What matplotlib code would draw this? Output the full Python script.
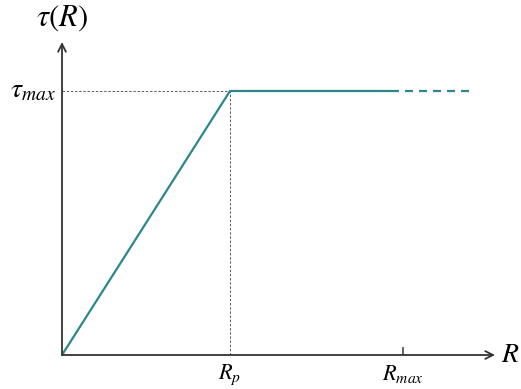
import numpy as np
import matplotlib.pyplot as plt

plt.rcParams['mathtext.fontset'] = 'stix'
plt.rcParams['font.family'] = ['Liberation Serif', 'DejaVu Serif']

# curve (in units of R_p and tau_max)
r_solid = [0.0, 1.0, 1.96]
tau_solid = [0.0, 1.0, 1.0]
r_dash = [1.96, 2.46]
tau_dash = [1.0, 1.0]
r_p = 1.0
r_max = 2.03
tau_max = 1.0

teal = '#2b878c'

fig = plt.figure(figsize=(5.21, 3.89), dpi=100)
ax = fig.add_axes([62 / 521, 34 / 389, 440 / 521, 321 / 389])
ax.set_xlim(0, 440 / 168)
ax.set_ylim(0, 321 / 264)
ax.axis('off')

# axes with arrows
ax.annotate('', xy=(433 / 168, 0), xytext=(0, 0),
            arrowprops=dict(arrowstyle='->', color='#333333', lw=1.3,
                            mutation_scale=14, shrinkA=0, shrinkB=0))
ax.annotate('', xy=(0, 313 / 264), xytext=(0, 0),
            arrowprops=dict(arrowstyle='->', color='#333333', lw=1.3,
                            mutation_scale=14, shrinkA=0, shrinkB=0))

# guide lines
ax.plot([0, r_p], [tau_max, tau_max], ls=(0, (3, 2)), lw=0.6, color='#444444')
ax.plot([r_p, r_p], [0, tau_max], ls=(0, (3, 2)), lw=0.6, color='#444444')

# Rmax tick
ax.plot([r_max, r_max], [0, 0.025], color='#555555', lw=1.3)

ax.plot(r_solid, tau_solid, color=teal, lw=1.6, solid_capstyle='butt')
ax.plot(r_dash, tau_dash, color=teal, lw=1.6, ls=(0, (3.6, 2.7)))

ax.text(-0.31, tau_max, r'$\tau_{max}$', fontsize=20, ha='left', va='center',
        clip_on=False)
ax.text(0.0, 1.22, r'$\tau(R)$', fontsize=22, ha='center', va='bottom',
        clip_on=False)
ax.text(2.67, 0, r'$R$', fontsize=20, ha='center', va='center', clip_on=False)
ax.text(r_p, -0.03, r'$R_p$', fontsize=16, ha='center', va='top',
        clip_on=False)
ax.text(r_max, -0.03, r'$R_{max}$', fontsize=16, ha='center', va='top',
        clip_on=False)

fig.savefig('out.png', dpi=100)
